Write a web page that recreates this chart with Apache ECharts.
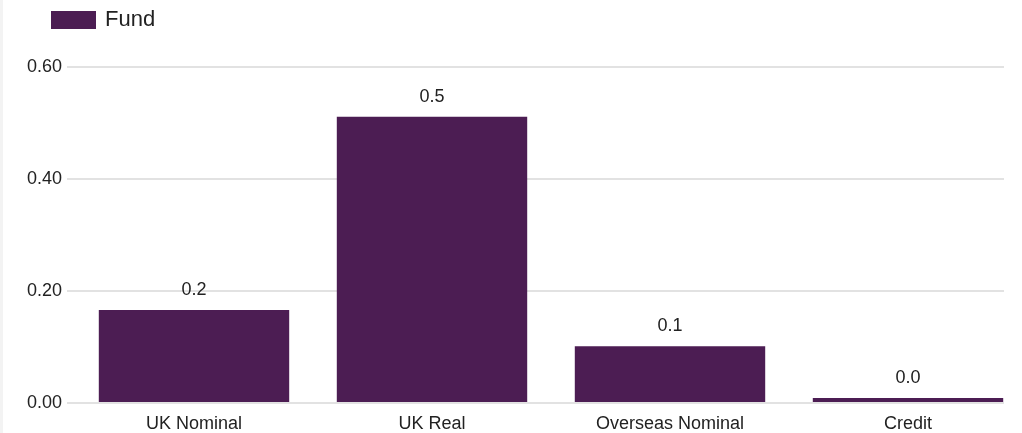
<!DOCTYPE html>
<html>
<head>
<meta charset="utf-8">
<script src="https://cdn.jsdelivr.net/npm/echarts@6/dist/echarts.min.js"></script>
<style>
  html, body { margin: 0; padding: 0; background: #ffffff; overflow: hidden; }
  #edge { position: absolute; left: 0; top: 0; width: 3px; height: 433px; background: #f3f3f3; }
  #chart { position: absolute; left: 0; top: 0; width: 1030px; height: 433px; }
</style>
</head>
<body>
<div id="edge"></div>
<div id="chart"></div>
<script>
// Duration breakdown by bond bucket
const categories = ['UK Nominal', 'UK Real', 'Overseas Nominal', 'Credit'];
const fundValues = [0.165, 0.511, 0.100, 0.007];
const yTicks = [0, 0.2, 0.4, 0.6];

const FONT = 'Liberation Sans, Arial, sans-serif';
const BAR_COLOR = '#4c1d53';
const TEXT_COLOR = '#222222';

const yMin = yTicks[0];
const yMax = yTicks[yTicks.length - 1];
const yStep = yTicks[1] - yTicks[0];

const chart = echarts.init(document.getElementById('chart'), null, { renderer: 'canvas' });

chart.setOption({
  animation: false,
  textStyle: { fontFamily: FONT },
  legend: {
    data: ['Fund'],
    left: 51,
    top: 9,
    padding: 0,
    itemWidth: 45,
    itemHeight: 18,
    icon: 'rect',
    textStyle: { fontSize: 22, color: TEXT_COLOR, fontFamily: FONT, padding: [0, 0, 0, 4] }
  },
  grid: [
    // gridlines and value labels
    { left: 67, right: 26, top: 67, bottom: 30, containLabel: false },
    // bars and category labels
    { left: 75, width: 952, top: 67, bottom: 30, containLabel: false }
  ],
  xAxis: [
    { gridIndex: 0, type: 'value', min: 0, max: 1, show: false },
    {
      gridIndex: 1,
      type: 'category',
      data: categories,
      axisLine: { show: false },
      axisTick: { show: false },
      axisLabel: { fontSize: 18, color: TEXT_COLOR, margin: 13, fontFamily: FONT }
    }
  ],
  yAxis: [
    {
      gridIndex: 0,
      type: 'value',
      min: yMin,
      max: yMax,
      interval: yStep,
      axisLine: { show: false },
      axisTick: { show: false },
      splitLine: { lineStyle: { color: '#e2e2e2', width: 2 } },
      axisLabel: {
        fontSize: 18,
        color: TEXT_COLOR,
        margin: 5,
        fontFamily: FONT,
        formatter: v => v.toFixed(2)
      }
    },
    { gridIndex: 1, type: 'value', min: yMin, max: yMax, show: false }
  ],
  series: [
    {
      name: 'Fund',
      type: 'bar',
      xAxisIndex: 1,
      yAxisIndex: 1,
      data: fundValues,
      barCategoryGap: '20%',
      itemStyle: { color: BAR_COLOR },
      label: {
        show: true,
        position: 'top',
        distance: 11,
        fontSize: 18,
        color: TEXT_COLOR,
        fontFamily: FONT,
        formatter: p => p.value.toFixed(1)
      }
    }
  ]
});
</script>
</body>
</html>
